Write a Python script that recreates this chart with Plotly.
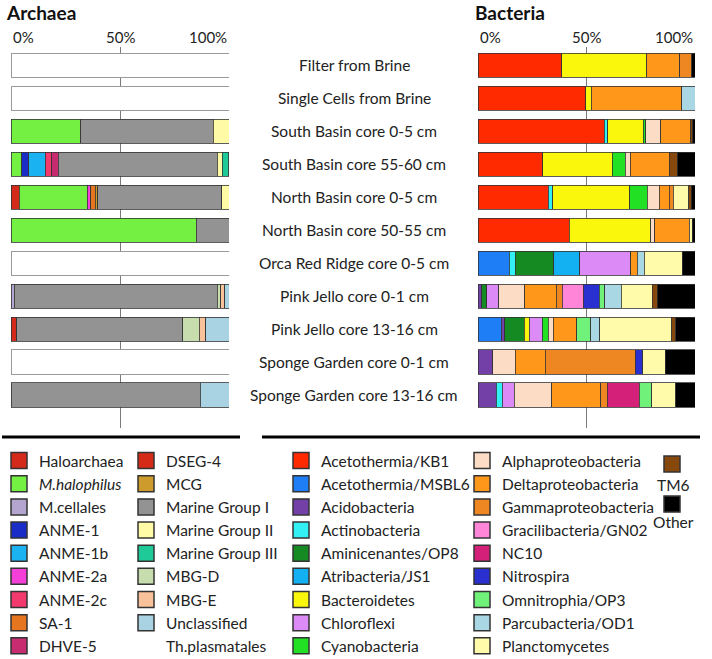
import plotly.graph_objects as go

# samples, top to bottom
samples = ["Filter from Brine", "Single Cells from Brine", "South Basin core 0-5 cm",
           "South Basin core 55-60 cm", "North Basin core 0-5 cm", "North Basin core 50-55 cm",
           "Orca Red Ridge core 0-5 cm", "Pink Jello core 0-1 cm", "Pink Jello core 13-16 cm",
           "Sponge Garden core 0-1 cm", "Sponge Garden core 13-16 cm"]

tick_vals = [0, 50, 100]
tick_labels = ["0%", "50%", "100%"]

# Archaea, % of reads per sample (rows without archaeal data are left blank)
no_data = [100, 100, 0, 0, 0, 0, 100, 0, 0, 100, 0]
haloarchaea = [0, 0, 0, 0, 3.7, 0, 0, 0, 2.6, 0, 0]
m_halophilus = [0, 0, 32.1, 4.9, 31.3, 84.9, 0, 0, 0, 0, 0]
m_cellales = [0, 0, 0, 0, 0, 0, 0, 1.5, 0, 0, 0]
anme_1 = [0, 0, 0, 3.3, 0, 0, 0, 0, 0, 0, 0]
anme_1b = [0, 0, 0, 7.6, 0, 0, 0, 0, 0, 0, 0]
anme_2a = [0, 0, 0, 0, 1.6, 0, 0, 0, 0, 0, 0]
anme_2c = [0, 0, 0, 2.8, 0, 0, 0, 0, 0, 0, 0]
sa_1 = [0, 0, 0, 0, 2.0, 0, 0, 0, 0, 0, 0]
dhve_5 = [0, 0, 0, 3.0, 0, 0, 0, 0, 0, 0, 0]
dseg_4 = [0, 0, 0, 0, 0, 0, 0, 0, 0, 0, 0]
mcg = [0, 0, 0, 0, 1.2, 0, 0, 0, 0, 0, 0]
marine_group_1 = [0, 0, 60.6, 72.9, 56.9, 15.1, 0, 93.1, 76.1, 0, 86.7]
marine_group_2 = [0, 0, 7.3, 2.5, 3.3, 0, 0, 0, 0, 0, 0]
marine_group_3 = [0, 0, 0, 2.9, 0, 0, 0, 0, 0, 0, 0]
mbg_d = [0, 0, 0, 0, 0, 0, 0, 1.5, 7.6, 0, 0]
mbg_e = [0, 0, 0, 0, 0, 0, 0, 2.0, 3.1, 0, 0]
unclassified = [0, 0, 0, 0, 0, 0, 0, 1.9, 10.6, 0, 13.3]
th_plasmatales = [0, 0, 0, 0, 0, 0, 0, 0, 0, 0, 0]

# Bacteria, % of reads per sample
kb1 = [38.6, 49.6, 58.1, 29.8, 32.4, 42.1, 0, 0, 0, 0, 0]
msbl6 = [0, 0, 0, 0, 0, 0, 14.4, 0, 10.6, 0, 0]
acido = [0, 0, 0, 0, 0, 0, 0, 1.7, 1.8, 6.8, 8.3]
actino = [0, 0, 1.7, 0, 2.0, 0, 2.8, 0, 0, 0, 2.9]
amin = [0, 0, 0, 0, 0, 0, 17.8, 2.3, 8.9, 0, 0]
atrib = [0, 0, 0, 0, 0, 0, 12.0, 0, 0, 0, 0]
bactero = [39.2, 2.5, 16.4, 32.1, 35.6, 37.6, 0, 0, 2.3, 0, 0]
chloro = [0, 0, 0, 0, 0, 0, 23.3, 5.5, 6.1, 0, 5.5]
cyano = [0, 0, 1.2, 6.0, 8.1, 0, 0, 0, 2.6, 0, 0]
alpha = [0, 0, 6.8, 2.2, 5.4, 1.8, 0, 12.0, 2.3, 10.3, 17.2]
delta = [15.1, 41.8, 13.5, 18.0, 4.6, 15.8, 3.1, 14.6, 10.8, 13.8, 22.6]
gamma = [5.7, 0, 0, 0, 1.8, 0, 0, 2.8, 0, 41.5, 3.1]
graci = [0, 0, 0, 0, 0, 0, 0, 9.8, 0, 0, 0]
nc10 = [0, 0, 0, 0, 0, 0, 0, 0, 0, 0, 14.7]
nitro = [0, 0, 0, 0, 0, 0, 0, 7.1, 0, 3.5, 0]
omni = [0, 0, 0, 0, 0, 0, 0, 2.6, 6.5, 0, 5.7]
parcu = [0, 6.1, 0, 0, 0, 0, 3.1, 7.7, 4.3, 0, 0]
planct = [0, 0, 0, 0, 7.2, 1.5, 17.7, 14.3, 33.0, 10.3, 11.2]
tm6 = [0, 0, 1.2, 3.8, 1.2, 0, 0, 2.3, 2.0, 0, 0]
other = [1.4, 0, 1.1, 8.1, 1.7, 1.2, 5.8, 17.3, 8.8, 13.8, 8.8]

# name, values, colour, legend column
archaea = [
    ("Haloarchaea", haloarchaea, "#d42a1c", "legend"),
    ("<i>M.halophilus</i>", m_halophilus, "#74f043", "legend"),
    ("M.cellales", m_cellales, "#b3a5cf", "legend"),
    ("ANME-1", anme_1, "#1a2dc6", "legend"),
    ("ANME-1b", anme_1b, "#1ab2f0", "legend"),
    ("ANME-2a", anme_2a, "#f53fd9", "legend"),
    ("ANME-2c", anme_2c, "#f23a6e", "legend"),
    ("SA-1", sa_1, "#e5761f", "legend"),
    ("DHVE-5", dhve_5, "#c62c6f", "legend"),
    ("DSEG-4", dseg_4, "#d42a17", "legend2"),
    ("MCG", mcg, "#cc9b2b", "legend2"),
    ("Marine Group I", marine_group_1, "#939393", "legend2"),
    ("Marine Group II", marine_group_2, "#fffaa5", "legend2"),
    ("Marine Group III", marine_group_3, "#1ecb98", "legend2"),
    ("MBG-D", mbg_d, "#c7ddae", "legend2"),
    ("MBG-E", mbg_e, "#f9c29a", "legend2"),
    ("Unclassified", unclassified, "#a9d3e3", "legend2"),
    ("Th.plasmatales", th_plasmatales, "rgba(0,0,0,0)", "legend2"),
]
bacteria = [
    ("Acetothermia/KB1", kb1, "#ff2a00", "legend3"),
    ("Acetothermia/MSBL6", msbl6, "#1e7ef5", "legend3"),
    ("Acidobacteria", acido, "#7340a8", "legend3"),
    ("Actinobacteria", actino, "#33f0f4", "legend3"),
    ("Aminicenantes/OP8", amin, "#168a22", "legend3"),
    ("Atribacteria/JS1", atrib, "#13b0f2", "legend3"),
    ("Bacteroidetes", bactero, "#fbf70c", "legend3"),
    ("Chloroflexi", chloro, "#dc8af6", "legend3"),
    ("Cyanobacteria", cyano, "#22e024", "legend3"),
    ("Alphaproteobacteria", alpha, "#fddcc6", "legend4"),
    ("Deltaproteobacteria", delta, "#ff981a", "legend4"),
    ("Gammaproteobacteria", gamma, "#ee8622", "legend4"),
    ("Gracilibacteria/GN02", graci, "#ff85d8", "legend4"),
    ("NC10", nc10, "#d5207a", "legend4"),
    ("Nitrospira", nitro, "#2a2fd0", "legend4"),
    ("Omnitrophia/OP3", omni, "#70f27a", "legend4"),
    ("Parcubacteria/OD1", parcu, "#a9d7e3", "legend4"),
    ("Planctomycetes", planct, "#fffbaa", "legend4"),
    ("TM6", tm6, "#87480e", "legend5"),
    ("Other", other, "#000000", "legend5"),
]

FONT = "Lato"
W, H = 712, 659

fig = go.Figure()

fig.add_trace(go.Bar(
    x=[v if v else None for v in no_data], y=samples, orientation="h",
    marker=dict(color="white", line=dict(color="#9a9a9a", width=1)),
    showlegend=False, hoverinfo="skip", xaxis="x", yaxis="y"))


def add_group(series, xa, ya):
    for name, vals, color, leg in series:
        fig.add_trace(go.Bar(
            x=[v if v else None for v in vals], y=samples, orientation="h", name=name,
            marker=dict(color=color, line=dict(color="#333333", width=0.8)),
            showlegend=False, xaxis=xa, yaxis=ya))
        # legend swatch; TM6/Other get their label written underneath instead
        line_col = "rgba(0,0,0,0)" if color.startswith("rgba") else "#333333"
        fig.add_trace(go.Scatter(
            x=[None], y=[None], mode="markers", name=" " if leg == "legend5" else name,
            legend=leg,
            marker=dict(symbol="square", size=16, color=color, line=dict(color=line_col, width=1.5)),
            xaxis=xa, yaxis=ya))


add_group(archaea, "x", "y")
add_group(bacteria, "x2", "y2")

xcommon = dict(range=[0, 100], side="top", tickmode="array", tickvals=tick_vals,
               showticklabels=False,
               showgrid=True, gridcolor="#7a7a7a", gridwidth=1.2, zeroline=False,
               showline=False, ticks="", fixedrange=True)
ycommon = dict(range=[11.0, -0.55], showticklabels=False, showgrid=False, zeroline=False,
               domain=[1 - 428 / H, 1 - 47 / H], fixedrange=True)

legfont = dict(family=FONT, size=15.5, color="#222")
legcommon = dict(bgcolor="rgba(0,0,0,0)", traceorder="normal", xanchor="left",
                 yanchor="top", font=legfont, itemclick=False, itemdoubleclick=False)
leg_top = 1 - 444 / H

fig.update_layout(
    width=W, height=H,
    margin=dict(l=0, r=0, t=0, b=0, autoexpand=False),
    paper_bgcolor="white", plot_bgcolor="white",
    barmode="stack", bargap=0.27,
    font=dict(family=FONT, color="#222"),
    xaxis=dict(domain=[11 / W, 229 / W], anchor="y", **xcommon),
    yaxis=dict(anchor="x", **ycommon),
    xaxis2=dict(domain=[478 / W, 695 / W], anchor="y2", **xcommon),
    yaxis2=dict(anchor="x2", **ycommon),
    legend=dict(x=-1 / W, y=leg_top, **legcommon),
    legend2=dict(x=126 / W, y=leg_top, **legcommon),
    legend3=dict(x=281 / W, y=leg_top, **legcommon),
    legend4=dict(x=462 / W, y=leg_top, **legcommon),
    legend5=dict(x=652 / W, y=1 - 439 / H, bgcolor="rgba(0,0,0,0)", traceorder="normal",
                 xanchor="left", yanchor="top", itemclick=False, itemdoubleclick=False,
                 font=dict(family=FONT, size=28.5, color="rgba(0,0,0,0)")),
    showlegend=True,
)

# percent labels above each panel: first one left-aligned, last one right-aligned
anchors = ["left", "center", "right"]
for xa in ["x", "x2"]:
    for v, t, anc in zip(tick_vals, tick_labels, anchors):
        fig.add_annotation(x=v, xref=xa, y=1 - 37 / H, yref="paper", text=t, showarrow=False,
                           xanchor=anc, yanchor="middle",
                           font=dict(family=FONT, size=15, color="#222"))

# sample labels between the two panels
for s in samples:
    fig.add_annotation(x=354 / W, xref="paper", y=s, yref="y", text=s, showarrow=False,
                       xanchor="center", font=dict(family=FONT, size=15.5, color="#222"))

# panel titles
for txt, px in [("Archaea", 4), ("Bacteria", 473)]:
    fig.add_annotation(x=px / W, y=1 - 13 / H, xref="paper", yref="paper", text="<b>%s</b>" % txt,
                       showarrow=False, xanchor="left", yanchor="middle",
                       font=dict(family=FONT, size=19, color="#111"))

# labels under the TM6 / Other swatches
for (name, _, _, _), py in zip(bacteria[-2:], [485, 522]):
    fig.add_annotation(x=673 / W, y=1 - py / H, xref="paper", yref="paper", text=name,
                       showarrow=False, xanchor="center", yanchor="middle", font=legfont)

# separator lines above the legends
fig.add_shape(type="line", xref="paper", yref="paper", x0=2 / W, x1=240 / W,
              y0=1 - 437 / H, y1=1 - 437 / H, line=dict(color="black", width=3))
fig.add_shape(type="line", xref="paper", yref="paper", x0=262 / W, x1=700 / W,
              y0=1 - 437 / H, y1=1 - 437 / H, line=dict(color="black", width=3))

# drop the default 8px page margin so the figure fills the window
fig.write_html("out.html", config={"displayModeBar": False},
               post_script="document.body.style.margin='0';")
